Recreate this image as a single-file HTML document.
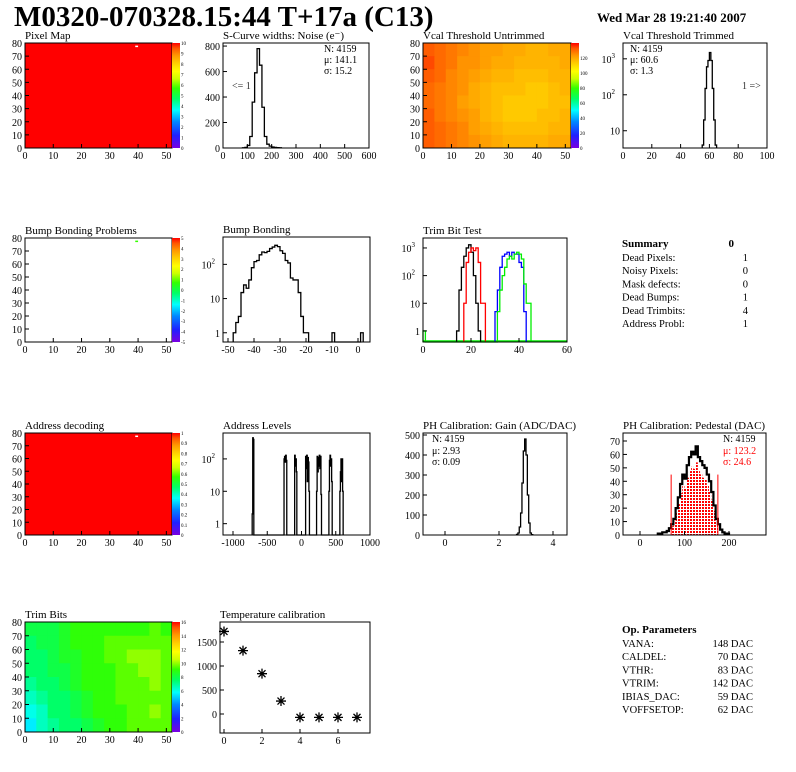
<!DOCTYPE html>
<html><head><meta charset="utf-8">
<style>
html,body{margin:0;padding:0;background:#fff;}
svg{display:block;font-family:"Liberation Serif",serif;}
</style></head>
<body>
<svg id="c" width="796" height="772" viewBox="0 0 796 772" xmlns="http://www.w3.org/2000/svg">
<defs>
<pattern id="dots" width="3" height="3" patternUnits="userSpaceOnUse"><rect width="3" height="3" fill="#fff"/><rect width="2" height="2" fill="#ff0000"/></pattern>
<linearGradient id="pal" x1="0" y1="1" x2="0" y2="0">
<stop offset="0" stop-color="#7a00e0"/><stop offset="0.12" stop-color="#2020ff"/><stop offset="0.25" stop-color="#0088ff"/><stop offset="0.36" stop-color="#00ffff"/><stop offset="0.47" stop-color="#00ff66"/><stop offset="0.57" stop-color="#33ff00"/><stop offset="0.66" stop-color="#ccff00"/><stop offset="0.73" stop-color="#ffff00"/><stop offset="0.81" stop-color="#ffcc00"/><stop offset="0.88" stop-color="#ff9900"/><stop offset="0.95" stop-color="#ff5500"/><stop offset="1" stop-color="#ff0000"/>
</linearGradient>
</defs>
<text x="14" y="26" font-size="29" font-weight="bold">M0320-070328.15:44 T+17a (C13)</text>
<text x="597" y="22" font-size="13" font-weight="bold">Wed Mar 28 19:21:40 2007</text>
</svg>
<script>
// ---------- data ----------
const scurveEdges = [80,90,100,110,120,130,140,150,160,170,180,190,200,210,220,230];
const scurveVals  = [2,5,20,90,360,590,780,650,320,90,30,15,8,5,3,2];
const vcalTrEdges = [55,56,57,58,59,60,61,62,63,64];
const vcalTrVals  = [4,20,150,600,900,1500,900,150,20,4];
const bumpEdges = [-48,-47,-46,-45,-44,-43,-42,-41,-40,-39,-38,-37,-36,-35,-34,-33,-32,-31,-30,-29,-28,-27,-26,-25,-24,-23,-22,-21,-20,-19,-10,1];
const bumpVals  = [1,2,3,15,25,20,35,80,120,130,190,230,220,240,290,320,360,330,250,210,130,110,40,35,35,15,3,1,1,0.5,1,1];
const trimBlackEdges=[14,15,16,17,18,19,20,21,22,23];
const trimBlackVals =[1,30,200,500,1000,1300,700,100,10,1];
const trimRedEdges=[17,18,19,20,21,22,23,24,25];
const trimRedVals =[10,300,700,1000,800,1000,300,10,10];
const trimBlueEdges=[30,31,32,33,34,35,36,37,38,39,40,41,42];
const trimBlueVals =[5,30,200,500,600,700,500,700,600,600,300,200,5];
const trimGreenEdges=[0,31,32,33,34,35,36,37,38,39,40,41,42,43,44];
const trimGreenVals =[1,5,30,100,200,400,500,400,600,700,600,400,50,10,10];
const addrEdges=[-720,-712,-704,-255,-247,-239,-231,-223,-100,-92,-84,-76,60,68,76,84,92,100,108,220,228,236,244,252,260,268,276,284,400,408,416,424,432,440,560,568,576,584,592,600];
const addrVals =[2,450,400,100,120,80,130,90,130,60,100,40,120,50,130,20,110,80,10,10,120,40,110,60,130,50,120,8,10,90,130,60,100,20,10,40,100,20,100,10];
const gainEdges=[2.65,2.7,2.75,2.8,2.85,2.9,2.95,3.0,3.05,3.1,3.15,3.2];
const gainVals =[3,10,40,110,260,420,480,400,200,60,10,2];
const pedEdges=[40,45,50,55,60,65,70,75,80,85,90,95,100,105,110,115,120,125,130,135,140,145,150,155,160,165,170,175,180,185,190,195];
const pedVals =[1,1,2,2,3,5,8,12,20,28,38,45,42,52,58,62,60,66,58,55,52,50,45,40,32,22,12,8,4,2,1,1];
const pedFitLo=70, pedFitHi=175;
const tempX=[0,1,2,3,4,5,6,7];
const tempY=[1720,1320,840,270,-70,-70,-70,-70];
const vcalGrid=[
[132,130,128,126,124,122,122,120,120,118,118,120,120],
[134,130,128,124,124,122,120,120,118,118,118,118,120],
[132,130,126,124,122,120,118,118,116,116,116,118,118],
[130,128,126,124,120,118,116,116,116,114,114,116,118],
[130,128,126,122,120,118,116,114,114,114,114,116,116],
[132,128,126,124,122,118,116,114,114,114,116,116,118],
[132,130,128,126,122,120,118,116,116,116,116,118,118],
[132,130,128,126,124,122,120,118,118,118,118,120,120]];
const trimGrid=[
[8,8,8,8.5,9,9,9,9,9,9,9,9.5,9],
[7.5,8,8,8.5,9,9,9,9.5,9.5,9.5,9.5,9.5,9.5],
[7.5,7.5,8,8.5,8.5,9,9,9.5,9.5,10,10,10,9.5],
[7.5,7.5,8,8,8.5,9,9,9,9.5,9.5,10,10,9.5],
[7,7.5,7.5,8,8.5,9,9,9,9.5,9.5,9.5,10,9.5],
[6.5,7,7.5,7.5,8,8.5,9,9,9.5,9.5,9.5,9.5,9.5],
[6,6.5,7.5,7.5,8,8.5,9,9,9,9.5,9.5,10,9.5],
[5.5,6.5,7,7.5,7.5,8,8.5,9,9,9.5,9.5,9.5,9.5]];
const summaryLabels=["Dead Pixels:","Noisy Pixels:","Mask defects:","Dead Bumps:","Dead Trimbits:","Address Probl:"];
const summaryValues=["1","0","0","1","4","1"];
const opLabels=["VANA:","CALDEL:","VTHR:","VTRIM:","IBIAS_DAC:","VOFFSETOP:"];
const opValues=["148 DAC","70 DAC","83 DAC","142 DAC","59 DAC","62 DAC"];

// ---------- helpers ----------
const NS="http://www.w3.org/2000/svg";
const svg=document.getElementById('c');
function el(tag,attrs,parent){const e=document.createElementNS(NS,tag);for(const k in attrs)e.setAttribute(k,attrs[k]);(parent||svg).appendChild(e);return e;}
function txt(x,y,s,size,anchor,parent,fill){const t=el('text',{x:x,y:y,'font-size':size,'text-anchor':anchor||'start',fill:fill||'#000'},parent);t.textContent=s;return t;}
function lin(d0,d1,r0,r1){return v=>r0+(v-d0)*(r1-r0)/(d1-d0);}
function logs(d0,d1,r0,r1){return v=>{const lv=Math.log10(Math.max(v,1e-6));return r0+(lv-d0)*(r1-r0)/(d1-d0);};}
function clampY(y,top,bot){return Math.max(top,Math.min(bot,y));}

function panel(name,title,L,T,R,B){
  const g=el('g',{});
  
  
  const t=txt(L,T-4,title,11,'start',g);
  
  
  return g;
}
function frame(g,L,T,R,B){
  const f=el('rect',{x:L,y:T,width:R-L,height:B-T,fill:'none',stroke:'#000','stroke-width':1},g);
  
  
}
function xTicks(g,sx,vals,labels,T,B){
  vals.forEach((v,i)=>{
    const x=sx(v);
    const tk=el('line',{x1:x,y1:B,x2:x,y2:B-4,stroke:'#000'},g);
    
    
    const lb=txt(x,B+11,labels[i],10,'middle',g);
    
    
  });
}
function yTicks(g,sy,vals,labels,L,sup){
  vals.forEach((v,i)=>{
    const y=sy(v);
    const tk=el('line',{x1:L,y1:y,x2:L+4,y2:y,stroke:'#000'},g);
    
    
    const lb=txt(L-3,y+4,labels[i],10,'end',g);
    
    
    if(sup&&sup[i]){lb.textContent='10';const s=el('tspan',{'font-size':7,dy:-5},lb);s.textContent=sup[i];lb.setAttribute('x',L-8);}
  });
}
function hist(g,sx,sy,edges,vals,w,T,B,color,name){
  let d='';let prevEnd=null;
  edges.forEach((e,i)=>{
    const x0=sx(e),x1=sx(e+w),y=clampY(sy(vals[i]),T,B);
    if(prevEnd===null){d+='M'+x0+','+B;}
    else if(Math.abs(prevEnd-e)>1e-9){d+='L'+sx(prevEnd)+','+B+'L'+x0+','+B;}
    d+='L'+x0+','+y+'L'+x1+','+y;
    prevEnd=e+w;
  });
  d+='L'+sx(prevEnd)+','+B;
  const p=el('path',{d:d,fill:'none',stroke:color,'stroke-width':1.3},g);
  
  
  return p;
}
function palette(x,T,B,g,labels){
  const r=el('rect',{x:x,y:T,width:8,height:B-T,fill:'url(#pal)'},g);
  
  
  labels.forEach((s,i)=>{
    const y=B-(B-T)*i/(labels.length-1);
    const t=txt(x+9,y+2,s,5,'start',g);
    
    
  });
}
function colorOf(t){
  const stops=[[0,[122,0,224]],[0.12,[32,32,255]],[0.25,[0,136,255]],[0.36,[0,255,255]],[0.47,[0,255,102]],[0.57,[51,255,0]],[0.66,[204,255,0]],[0.73,[255,255,0]],[0.81,[255,204,0]],[0.88,[255,153,0]],[0.95,[255,85,0]],[1,[255,0,0]]];
  t=Math.max(0,Math.min(1,t));
  for(let i=1;i<stops.length;i++){if(t<=stops[i][0]){const a=stops[i-1],b=stops[i];const f=(t-a[0])/(b[0]-a[0]);const c=a[1].map((v,k)=>Math.round(v+(b[1][k]-v)*f));return 'rgb('+c.join(',')+')';}}
  return 'rgb(255,0,0)';
}
function mapAxes(g,L,T,B,sx,sy){
  xTicks(g,sx,[0,10,20,30,40,50],['0','10','20','30','40','50'],T,B);
  yTicks(g,sy,[0,10,20,30,40,50,60,70,80],['0','10','20','30','40','50','60','70','80'],L);
}

// ---------- Row 1 ----------
(function(){ // Pixel map
  const L=25,T=43,R=172,B=148;const g=panel('pixel-map','Pixel Map',L,T,R,B);
  const sx=lin(0,52,L,R),sy=lin(0,80,B,T);
  const r=el('rect',{x:L,y:T,width:R-L,height:B-T,fill:'#ff0000'},g);
  
  const d=el('rect',{x:sx(39),y:sy(78),width:sx(40)-sx(39),height:1.5,fill:'#fff'},g);
  
  frame(g,L,T,R,B);palette(R,T,B,g,['0','1','2','3','4','5','6','7','8','9','10']);mapAxes(g,L,T,B,sx,sy);
})();
(function(){ // S-curve
  const L=223,T=43,R=369,B=148;const g=panel('scurve-noise','S-Curve widths: Noise (e\u207B)',L,T,R,B);
  const sx=lin(0,600,L,R),sy=lin(0,824,B,T);
  hist(g,sx,sy,scurveEdges,scurveVals,10,T,B,'#000','scurve-histogram');
  frame(g,L,T,R,B);
  xTicks(g,sx,[0,100,200,300,400,500,600],['0','100','200','300','400','500','600'],T,B);
  yTicks(g,sy,[0,200,400,600,800],['0','200','400','600','800'],L);
  [['N: 4159',52],['\u03BC: 141.1',63],['\u03C3: 15.2',74]].forEach(a=>{const t=txt(324,a[1],a[0],10,'start',g);});
  const u=txt(232,89,'<= 1',10,'start',g,'#333');
})();
(function(){ // Vcal untrimmed
  const L=423,T=43,R=571,B=148;const g=panel('vcal-untrimmed','Vcal Threshold Untrimmed',L,T,R,B);
  const sx=lin(0,52,L,R),sy=lin(0,80,B,T);
  const cw=(R-L)/13,ch=(B-T)/8;
  vcalGrid.forEach((row,ri)=>row.forEach((v,ci)=>{
    const c=el('rect',{x:L+ci*cw,y:T+ri*ch,width:cw+0.5,height:ch+0.5,fill:colorOf(v/140)},g);
    
  }));
  frame(g,L,T,R,B);palette(R,T,B,g,['0','20','40','60','80','100','120','']);mapAxes(g,L,T,B,sx,sy);
})();
(function(){ // Vcal trimmed
  const L=623,T=43,R=767,B=148;const g=panel('vcal-trimmed','Vcal Threshold Trimmed',L,T,R,B);
  const sx=lin(0,100,L,R),sy=logs(0.52,3.44,B,T);
  hist(g,sx,sy,vcalTrEdges,vcalTrVals,1,T,B,'#000','vcal-trimmed-histogram');
  frame(g,L,T,R,B);
  xTicks(g,sx,[0,20,40,60,80,100],['0','20','40','60','80','100'],T,B);
  yTicks(g,sy,[10,100,1000],['10','10','10'],L,['','2','3']);
  [['N: 4159',52],['\u03BC: 60.6',63],['\u03C3:  1.3',74]].forEach(a=>{const t=txt(630,a[1],a[0],10,'start',g);});
  const o=txt(742,89,'1 =>',10,'start',g,'#333');
})();

// ---------- Row 2 ----------
(function(){
  const L=25,T=238,R=172,B=342;const g=panel('bump-bonding-problems','Bump Bonding Problems',L,T,R,B);
  const sx=lin(0,52,L,R),sy=lin(0,80,B,T);
  const d=el('rect',{x:sx(39),y:sy(78),width:sx(40)-sx(39),height:1.5,fill:'#33ff00'},g);
  
  frame(g,L,T,R,B);palette(R,T,B,g,['-5','-4','-3','-2','-1','0','1','2','3','4','5']);mapAxes(g,L,T,B,sx,sy);
})();
(function(){
  const L=223,T=237,R=370,B=342;const g=panel('bump-bonding','Bump Bonding',L,T,R,B);
  const sx=lin(-50,0,228,358),sy=logs(-0.27,2.8,B,T);
  hist(g,sx,sy,bumpEdges,bumpVals,1,T,B,'#000','bump-histogram');
  frame(g,L,T,R,B);
  xTicks(g,sx,[-50,-40,-30,-20,-10,0],['-50','-40','-30','-20','-10','0'],T,B);
  yTicks(g,sy,[1,10,100],['1','10','10'],L,['','','2']);
})();
(function(){
  const L=423,T=238,R=567,B=342;const g=panel('trim-bit-test','Trim Bit Test',L,T,R,B);
  const sx=lin(0,60,L,R),sy=logs(-0.4,3.36,B,T);
  const base=el('line',{x1:L,y1:B-1,x2:R,y2:B-1,stroke:'#00ee00','stroke-width':1.5},g);
  
  hist(g,sx,sy,trimBlackEdges,trimBlackVals,1,T,B,'#000','trim-bit-black');
  hist(g,sx,sy,trimRedEdges,trimRedVals,1,T,B,'#ff0000','trim-bit-red');
  hist(g,sx,sy,trimBlueEdges,trimBlueVals,1,T,B,'#0000ff','trim-bit-blue');
  hist(g,sx,sy,trimGreenEdges,trimGreenVals,1,T,B,'#00ee00','trim-bit-green');
  frame(g,L,T,R,B);
  xTicks(g,sx,[0,20,40,60],['0','20','40','60'],T,B);
  yTicks(g,sy,[1,10,100,1000],['1','10','10','10'],L,['','','2','3']);
})();
(function(){
  const g=el('g',{});
  const h=txt(622,247,'Summary',11,'start',g);h.setAttribute('font-weight','bold');
  const z=txt(734,247,'0',11,'end',g);z.setAttribute('font-weight','bold');
  summaryLabels.forEach((s,i)=>{const y=261+i*13.2;
    const a=txt(622,y,s,10.5,'start',g);
    const b=txt(748,y,summaryValues[i],10.5,'end',g);});
})();

// ---------- Row 3 ----------
(function(){
  const L=25,T=433,R=172,B=535;const g=panel('address-decoding','Address decoding',L,T,R,B);
  const sx=lin(0,52,L,R),sy=lin(0,80,B,T);
  const r=el('rect',{x:L,y:T,width:R-L,height:B-T,fill:'#ff0000'},g);
  
  const d=el('rect',{x:sx(39),y:sy(78),width:sx(40)-sx(39),height:1.5,fill:'#fff'},g);
  
  frame(g,L,T,R,B);palette(R,T,B,g,['0','0.1','0.2','0.3','0.4','0.5','0.6','0.7','0.8','0.9','1']);mapAxes(g,L,T,B,sx,sy);
})();
(function(){
  const L=223,T=433,R=370,B=535;const g=panel('address-levels','Address Levels',L,T,R,B);
  const sx=lin(-1000,1000,233,370),sy=logs(-0.35,2.8,B,T);
  hist(g,sx,sy,addrEdges,addrVals,8,T,B,'#000','address-levels-histogram');
  frame(g,L,T,R,B);
  xTicks(g,sx,[-1000,-500,0,500,1000],['-1000','-500','0','500','1000'],T,B);
  yTicks(g,sy,[1,10,100],['1','10','10'],L,['','','2']);
})();
(function(){
  const L=423,T=433,R=567,B=535;const g=panel('ph-gain','PH Calibration: Gain (ADC/DAC)',L,T,R,B);
  const sx=lin(0,4,445,553),sy=lin(0,500,B,435);
  hist(g,sx,sy,gainEdges,gainVals,0.05,T,B,'#000','gain-histogram');
  frame(g,L,T,R,B);
  xTicks(g,sx,[0,2,4],['0','2','4'],T,B);
  yTicks(g,sy,[0,100,200,300,400,500],['0','100','200','300','400','500'],L);
  [['N: 4159',442],['\u03BC: 2.93',454],['\u03C3: 0.09',465]].forEach(a=>{const t=txt(432,a[1],a[0],10,'start',g);});
})();
(function(){
  const L=623,T=433,R=766,B=535;const g=panel('ph-pedestal','PH Calibration: Pedestal (DAC)',L,T,R,B);
  const sx=lin(0,200,640,729),sy=lin(0,70,B,441);
  const fe=[],fv=[];pedEdges.forEach((e,i)=>{if(e>=pedFitLo&&e<pedFitHi){fe.push(e);fv.push(pedVals[i]*0.82);}});
  let d='M'+sx(fe[0])+','+B;fe.forEach((e,i)=>{d+='L'+sx(e)+','+sy(fv[i])+'L'+sx(e+5)+','+sy(fv[i]);});d+='L'+sx(fe[fe.length-1]+5)+','+B+'Z';
  const f=el('path',{d:d,fill:'url(#dots)',stroke:'none'},g);
  const h=hist(g,sx,sy,pedEdges,pedVals,5,T,B,'#000','pedestal-histogram');h.setAttribute('stroke-width',2.2);
  [pedFitLo,pedFitHi].forEach(v=>{const l=el('line',{x1:sx(v),y1:B,x2:sx(v),y2:sy(45),stroke:'#ff0000'},g);});
  frame(g,L,T,R,B);
  xTicks(g,sx,[0,100,200],['0','100','200'],T,B);
  yTicks(g,sy,[0,10,20,30,40,50,60,70],['0','10','20','30','40','50','60','70'],L);
  [['N: 4159',442,'#000'],['\u03BC: 123.2',454,'#ff0000'],['\u03C3: 24.6',465,'#ff0000']].forEach(a=>{const t=txt(723,a[1],a[0],10,'start',g,a[2]);});
})();

// ---------- Row 4 ----------
(function(){
  const L=25,T=622,R=172,B=732;const g=panel('trim-bits-map','Trim Bits',L,T,R,B);
  const sx=lin(0,52,L,R),sy=lin(0,80,B,T);
  const cw=(R-L)/13,ch=(B-T)/8;
  trimGrid.forEach((row,ri)=>row.forEach((v,ci)=>{
    const c=el('rect',{x:L+ci*cw,y:T+ri*ch,width:cw+0.5,height:ch+0.5,fill:colorOf(v/16)},g);
    
  }));
  frame(g,L,T,R,B);palette(R,T,B,g,['0','2','4','6','8','10','12','14','16']);mapAxes(g,L,T,B,sx,sy);
})();
(function(){
  const L=220,T=622,R=370,B=733;const g=panel('temperature-calibration','Temperature calibration',L,T,R,B);
  const sx=lin(0,6,224,338),sy=lin(0,1500,714,642);
  frame(g,L,T,R,B);
  xTicks(g,sx,[0,2,4,6],['0','2','4','6'],T,B);
  yTicks(g,sy,[0,500,1000,1500],['0','500','1000','1500'],L);
  tempX.forEach((v,i)=>{
    const x=sx(v),y=sy(tempY[i]);
    const s=el('path',{d:'M'+(x-5)+','+y+'H'+(x+5)+'M'+x+','+(y-5)+'V'+(y+5)+'M'+(x-3.5)+','+(y-3.5)+'L'+(x+3.5)+','+(y+3.5)+'M'+(x-3.5)+','+(y+3.5)+'L'+(x+3.5)+','+(y-3.5),stroke:'#000','stroke-width':1.3,fill:'none'},g);
    
    
  });
})();
(function(){
  const g=el('g',{});
  const h=txt(622,633,'Op. Parameters',11,'start',g);h.setAttribute('font-weight','bold');
  opLabels.forEach((s,i)=>{const y=647+i*13.2;
    const a=txt(622,y,s,10.5,'start',g);
    const b=txt(753,y,opValues[i],10.5,'end',g);});
})();
</script>
</body></html>
